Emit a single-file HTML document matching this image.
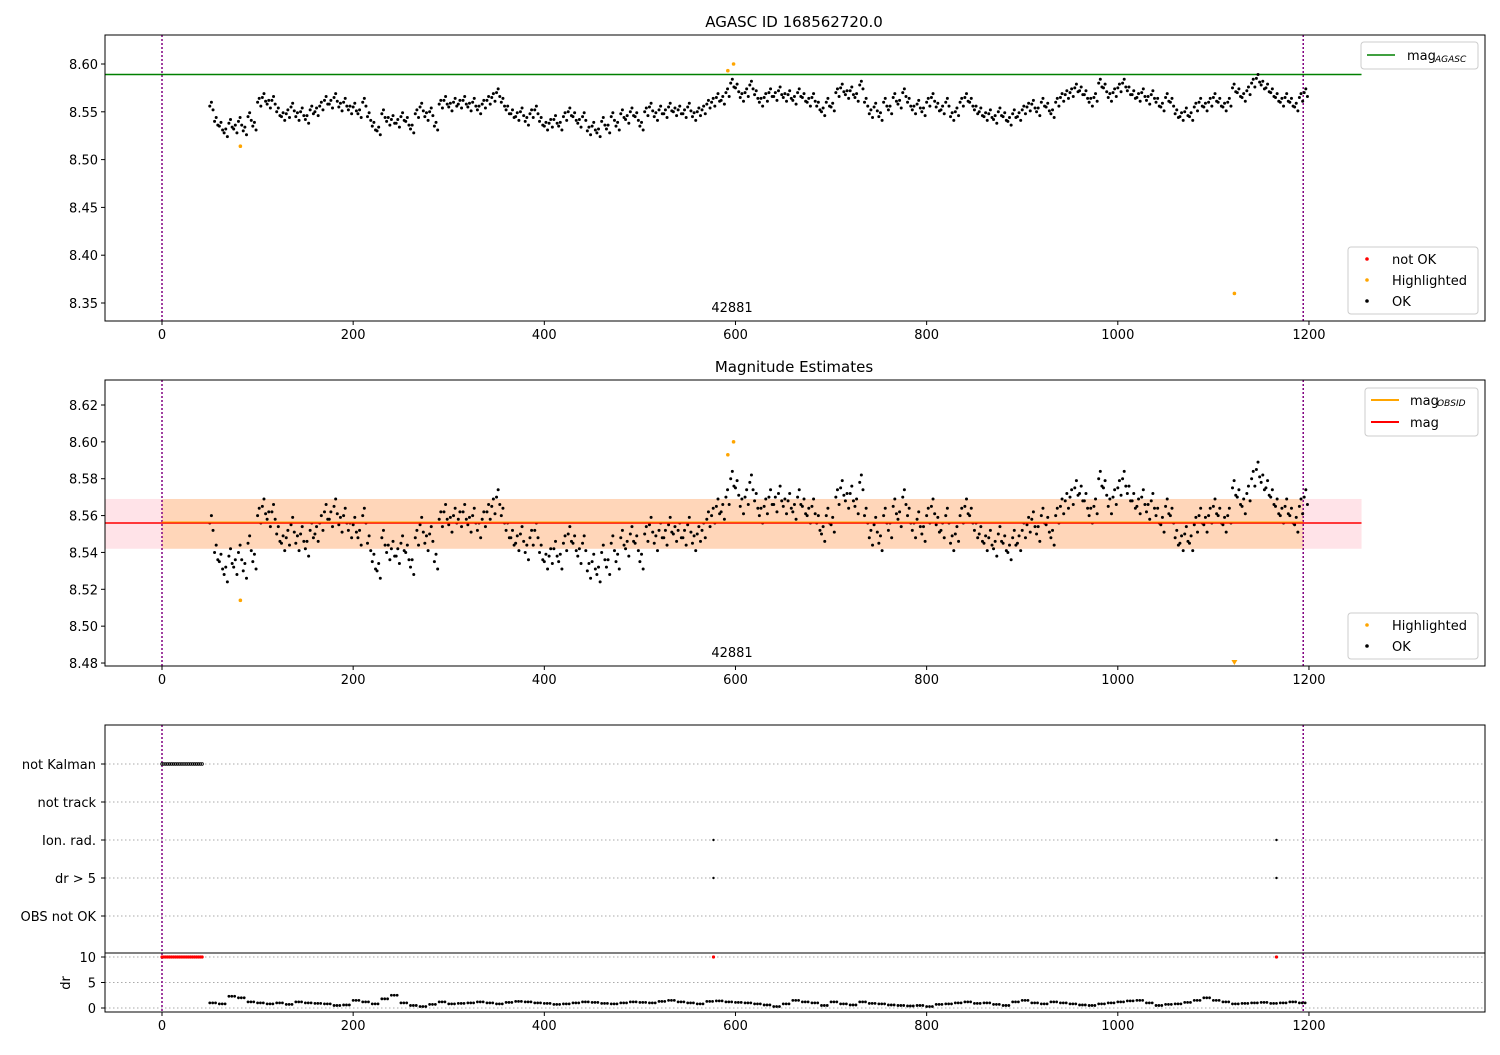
<!DOCTYPE html>
<html><head><meta charset="utf-8"><style>
body{margin:0;background:#fff}
svg{font-family:"DejaVu Sans","Liberation Sans",sans-serif}
</style></head><body>
<svg id="c" width="1500" height="1050" xmlns="http://www.w3.org/2000/svg"></svg>
<script>
const magT0 = 50, magStep = 5;
const magValues = [8.556,8.54,8.535,8.528,8.538,8.532,8.54,8.53,8.545,8.535,8.56,8.565,8.558,8.562,8.55,8.545,8.548,8.555,8.545,8.55,8.542,8.552,8.55,8.556,8.562,8.558,8.565,8.555,8.56,8.552,8.555,8.548,8.56,8.545,8.535,8.53,8.548,8.54,8.542,8.538,8.545,8.54,8.532,8.548,8.555,8.545,8.55,8.535,8.558,8.562,8.555,8.56,8.558,8.562,8.555,8.56,8.552,8.558,8.562,8.565,8.57,8.56,8.552,8.548,8.545,8.55,8.54,8.548,8.552,8.54,8.535,8.538,8.542,8.535,8.545,8.55,8.545,8.538,8.545,8.53,8.535,8.528,8.54,8.532,8.545,8.535,8.548,8.542,8.55,8.545,8.535,8.55,8.555,8.545,8.552,8.548,8.555,8.55,8.552,8.548,8.555,8.545,8.55,8.552,8.558,8.56,8.565,8.562,8.57,8.58,8.575,8.565,8.57,8.578,8.568,8.56,8.565,8.57,8.566,8.572,8.565,8.568,8.562,8.57,8.565,8.56,8.565,8.556,8.55,8.56,8.555,8.57,8.575,8.568,8.572,8.565,8.578,8.56,8.548,8.555,8.545,8.56,8.552,8.565,8.558,8.57,8.56,8.552,8.558,8.55,8.56,8.565,8.555,8.552,8.56,8.545,8.55,8.56,8.565,8.56,8.552,8.55,8.545,8.548,8.542,8.55,8.545,8.54,8.548,8.545,8.552,8.555,8.558,8.55,8.56,8.555,8.548,8.56,8.565,8.568,8.57,8.575,8.572,8.568,8.56,8.565,8.58,8.575,8.565,8.57,8.575,8.58,8.572,8.568,8.565,8.57,8.562,8.568,8.56,8.555,8.565,8.56,8.548,8.545,8.55,8.545,8.555,8.56,8.555,8.56,8.565,8.56,8.555,8.56,8.575,8.57,8.565,8.572,8.58,8.585,8.578,8.575,8.57,8.565,8.56,8.565,8.56,8.555,8.565,8.57];
const hlT = [82,592,598,1122];
const hlMag = [8.514,8.593,8.600,8.36];
const magAgasc = 8.589, magObs = 8.556, magLo = 8.542, magHi = 8.569;
const drT0 = 50, drStep = 10;
const drValues = [1.0,0.8,2.3,2.0,1.2,1.0,0.8,1.0,0.7,1.2,1.0,0.9,0.8,0.5,0.6,1.5,1.2,0.8,1.8,2.5,1.0,0.5,0.3,0.7,1.2,0.8,0.9,1.0,1.2,1.0,0.8,1.1,1.3,1.2,1.0,0.9,0.7,0.8,1.0,1.2,1.1,0.9,0.8,1.0,1.2,1.1,1.0,1.3,1.5,1.2,1.0,0.8,1.3,1.4,1.2,1.1,1.0,0.8,0.6,0.3,0.8,1.5,1.2,1.0,0.5,1.2,0.8,0.6,1.2,0.9,0.8,0.6,0.5,0.4,0.5,0.3,0.7,0.8,1.0,1.2,0.9,1.0,0.7,0.5,1.2,1.5,1.0,0.8,1.2,1.0,0.8,0.6,0.5,0.8,1.0,1.2,1.4,1.5,1.0,0.5,0.7,0.8,1.1,1.5,2.0,1.5,1.2,0.8,0.9,1.0,1.1,0.9,1.0,1.2,1.0];
const kalmanT = [0,2,4,6,8,10,12,14,16,18,20,22,24,26,28,30,32,34,36,38,40,42];
const flagT = [577,1166];
const flagLabels = ["not Kalman","not track","Ion. rad.","dr > 5","OBS not OK"];
const xTicks = [0,200,400,600,800,1000,1200];
const y1Ticks = [8.35,8.40,8.45,8.50,8.55,8.60];
const y2Ticks = [8.48,8.50,8.52,8.54,8.56,8.58,8.60,8.62];
const drTicks = [0,5,10];
const obsEnd = 1194, lineEnd = 1255;
const spreadDt = [0,1.7,3.4], spreadDy = [0,0.004,-0.004];

const S=document.getElementById('c');const NS='http://www.w3.org/2000/svg';
function el(t,a,p){const e=document.createElementNS(NS,t);for(const k in a)e.setAttribute(k,a[k]);(p||S).appendChild(e);return e;}
function txt(x,y,s,a,p){const e=el('text',Object.assign({x:x,y:y,'font-size':13,fill:'#000'},a||{}),p);e.textContent=s;return e;}
const L=105,R=1485;
const X=t=>162+(t)*0.9558;
const Y1=v=>64+(8.60-v)/0.05*47.8;
const Y2=v=>405+(8.62-v)/0.02*36.86;
const YD=v=>1008-v/5*25.5;
const flagY=[764,802,840,878,916];

function frame(top,bot,name){el('rect',{x:L,y:top,width:R-L,height:bot-top,fill:'none',stroke:'#000','stroke-width':1,});}
function xaxis(bot){const g=el('g',{});xTicks.forEach(t=>{el('line',{x1:X(t),x2:X(t),y1:bot,y2:bot+4,stroke:'#000'},g);const e=txt(X(t),bot+18,String(t),{'text-anchor':'middle'},g);});}
function yaxis(ticks,Y,fmt){const g=el('g',{});ticks.forEach(v=>{el('line',{x1:L-4,x2:L,y1:Y(v),y2:Y(v),stroke:'#000'},g);const e=txt(L-7,Y(v)+5,fmt(v),{'text-anchor':'end'},g);});}
function vlines(top,bot){[0,obsEnd].forEach(t=>el('line',{x1:X(t),x2:X(t),y1:top,y2:bot,stroke:'#800080','stroke-width':1.5,'stroke-dasharray':'2,2',}));}
function dots(Y,color,clip){magValues.forEach((v,i)=>{spreadDt.forEach((dt,k)=>{const c=el('circle',{cx:X(magT0+i*magStep+dt),cy:Y(v+spreadDy[k]),r:1.5,fill:color,'clip-path':clip});});});}

el('clipPath',{id:'c1'});el('rect',{x:L,y:35,width:R-L,height:286},S.lastChild);
el('clipPath',{id:'c2'});el('rect',{x:L,y:380,width:R-L,height:286},S.lastChild);
txt(794,27,'AGASC ID 168562720.0',{'text-anchor':'middle','font-size':15,});
vlines(35,321);
el('line',{x1:L,x2:X(lineEnd),y1:Y1(magAgasc),y2:Y1(magAgasc),stroke:'#008000','stroke-width':1.5,});
dots(Y1,'#000','url(#c1)');
hlT.forEach((t,i)=>{const c=el('circle',{cx:X(t),cy:Y1(hlMag[i]),r:1.8,fill:'#FFA500'});});
txt(732,312,'42881',{'text-anchor':'middle',});
frame(35,321,'panel-1');xaxis(321);yaxis(y1Ticks,Y1,v=>v.toFixed(2));
let g=el('g',{});
el('rect',{x:1361,y:42,width:117,height:27,fill:'#fff',stroke:'#ccc',rx:3},g);
el('line',{x1:1367,x2:1395,y1:55,y2:55,stroke:'#008000','stroke-width':1.5},g);
txt(1407,60,'mag',{},g);txt(1435,62,'AGASC',{'font-size':9,'font-style':'italic'},g);
g=el('g',{});
el('rect',{x:1348,y:247,width:130,height:67,fill:'#fff',stroke:'#ccc',rx:3},g);
[['not OK','#f00',259],['Highlighted','#FFA500',280],['OK','#000',301]].forEach(d=>{el('circle',{cx:1367,cy:d[2],r:1.8,fill:d[1]},g);txt(1392,d[2]+5,d[0],{},g);});

txt(794,372,'Magnitude Estimates',{'text-anchor':'middle','font-size':15,});
el('rect',{x:L,y:Y2(magHi),width:X(lineEnd)-L,height:Y2(magLo)-Y2(magHi),fill:'#ffc0cb',opacity:0.45,});
el('rect',{x:X(0),y:Y2(magHi),width:X(obsEnd)-X(0),height:Y2(magLo)-Y2(magHi),fill:'#FFA500',opacity:0.2,});
vlines(380,666);
dots(Y2,'#000','url(#c2)');
el('line',{x1:L,x2:X(lineEnd),y1:Y2(magObs),y2:Y2(magObs),stroke:'#f00','stroke-width':1.5,});
el('line',{x1:X(0),x2:X(obsEnd),y1:Y2(magObs)-1,y2:Y2(magObs)-1,stroke:'#FFA500','stroke-width':1,});
hlT.forEach((t,i)=>{const v=hlMag[i];if(v<8.4784){const x=X(t),y=663;el('path',{d:`M${x-3},${y-3}L${x+3},${y-3}L${x},${y+2}Z`,fill:'#FFA500',});}else{const c=el('circle',{cx:X(t),cy:Y2(v),r:1.8,fill:'#FFA500'});}});
txt(732,657,'42881',{'text-anchor':'middle',});
frame(380,666,'panel-2');xaxis(666);yaxis(y2Ticks,Y2,v=>v.toFixed(2));
g=el('g',{});
el('rect',{x:1365,y:388,width:113,height:48,fill:'#fff',stroke:'#ccc',rx:3},g);
el('line',{x1:1371,x2:1399,y1:400,y2:400,stroke:'#FFA500','stroke-width':2},g);
txt(1410,405,'mag',{},g);txt(1437,406,'OBSID',{'font-size':9,'font-style':'italic'},g);
el('line',{x1:1371,x2:1399,y1:422,y2:422,stroke:'#f00','stroke-width':2},g);txt(1410,427,'mag',{},g);
g=el('g',{});
el('rect',{x:1348,y:613,width:130,height:46,fill:'#fff',stroke:'#ccc',rx:3},g);
[['Highlighted','#FFA500',625],['OK','#000',646]].forEach(d=>{el('circle',{cx:1367,cy:d[2],r:1.8,fill:d[1]},g);txt(1392,d[2]+5,d[0],{},g);});

flagLabels.forEach((s,i)=>{el('line',{x1:L,x2:R,y1:flagY[i],y2:flagY[i],stroke:'#aaa','stroke-dasharray':'1.5,2.5',});el('line',{x1:L-4,x2:L,y1:flagY[i],y2:flagY[i],stroke:'#000'});txt(L-9,flagY[i]+5,s,{'text-anchor':'end',});});
[0,5,10].forEach(v=>el('line',{x1:L,x2:R,y1:YD(v),y2:YD(v),stroke:'#aaa','stroke-dasharray':'1.5,2.5'}));
vlines(725,1012);
kalmanT.forEach(t=>{const c=el('circle',{cx:X(t),cy:flagY[0],r:1.3,fill:'none',stroke:'#000','stroke-width':0.8});
const r=el('circle',{cx:X(t),cy:YD(10),r:1.6,fill:'#f00'});});
flagT.forEach(t=>{[2,3].forEach(k=>{const c=el('circle',{cx:X(t),cy:flagY[k],r:1.2,fill:'#000'});});
const r=el('circle',{cx:X(t),cy:YD(10),r:1.6,fill:'#f00'});});
drValues.forEach((v,i)=>{const t=drT0+i*drStep;[0,3,6].forEach(o=>{const c=el('circle',{cx:X(t+o),cy:YD(v),r:1.4,fill:'#000'});});});
el('rect',{x:L,y:725,width:R-L,height:228,fill:'none',stroke:'#000',});
el('rect',{x:L,y:953,width:R-L,height:59,fill:'none',stroke:'#000',});
xaxis(1012);
drTicks.forEach(v=>{el('line',{x1:L-4,x2:L,y1:YD(v),y2:YD(v),stroke:'#000'});txt(L-9,YD(v)+5,String(v),{'text-anchor':'end',});});
txt(0,0,'dr',{transform:'translate(70,983) rotate(-90)','text-anchor':'middle',});
</script>
</body></html>
